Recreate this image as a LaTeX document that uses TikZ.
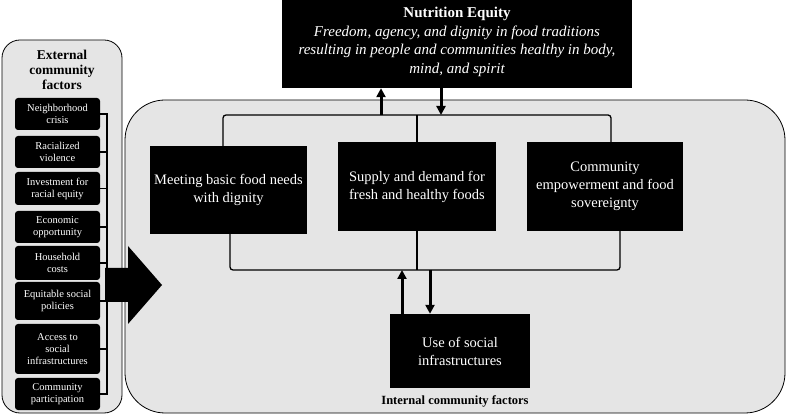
\documentclass[tikz,border=0pt]{standalone}
\usepackage{fontspec}
\setmainfont{Liberation Serif}
\usetikzlibrary{arrows.meta}
\begin{document}
\begin{tikzpicture}[x=1pt,y=-1pt,
  panel/.style={draw=black,fill=gray!20,line width=0.8pt},
  sbox/.style={fill=black,text=white,rounded corners=3pt,align=center,font=\fontsize{10.5}{12}\selectfont,inner sep=1pt},
  bbox/.style={fill=black,text=white,align=center,font=\fontsize{14.5}{18}\selectfont,inner sep=2pt},
  ln/.style={line width=1.3pt},
  arr/.style={line width=3pt,-{Triangle[length=9pt,width=9pt]}}]
\useasboundingbox (0,0) rectangle (787,419);
% panels
\draw[panel,rounded corners=18pt] (2,40) rectangle (122,413);
\draw[panel,rounded corners=40pt] (125,100) rectangle (785,413);
\node[font=\bfseries\fontsize{13.5}{15}\selectfont,align=center] (ext) at (62,70) {External\\community\\factors};
\node[font=\bfseries\fontsize{12.5}{14}\selectfont] (int) at (455,401) {Internal community factors};
% small boxes
\foreach \n/\ya/\yb/\t in {a/98/130/{Neighborhood\\crisis},b/136/168/{Racialized\\violence},c/172/205/{Investment for\\racial equity},d/211/243/{Economic\\opportunity},e/246/280/{Household\\costs},f/282/320/{Equitable social\\policies},g/324/374/{Access to\\social\\infrastructures},h/378/410/{Community\\participation}}{
  \node[sbox,minimum width=85pt,minimum height={\yb-\ya}] (\n) at (57.5,{(\ya+\yb)/2}) {\t};
}
% bracket
\draw[ln] (a.east) -- (107,114) -- (107,394) -- (h.east);
\foreach \n in {b,c,d,e,f,g}{\draw[ln] (\n.east) -- (107,0 |- \n.east);}
% big arrow
\fill (105,268) -- (128,268) -- (128,246) -- (162,285) -- (128,324) -- (128,302) -- (105,302) -- cycle;
% top box
\node[fill=black,minimum width=350pt,minimum height=88pt,inner sep=0pt] (top) at (457,44) {};
\node[text=white,align=center,font=\fontsize{15}{18.5}\selectfont] (toptxt) at (457,42) {\textbf{Nutrition Equity}\\\itshape Freedom, agency, and dignity in food traditions\\\itshape resulting in people and communities healthy in body,\\\itshape mind, and spirit};
% main boxes
\node[bbox,minimum width=157pt,minimum height=88pt] (m1) at (228.5,190) {Meeting basic food needs\\with dignity};
\node[bbox,minimum width=158pt,minimum height=89pt] (m2) at (417,186.5) {Supply and demand for\\fresh and healthy foods};
\node[bbox,minimum width=156pt,minimum height=89pt] (m3) at (605,186.5) {Community\\empowerment and food\\sovereignty};
\node[bbox,minimum width=140pt,minimum height=74pt] (use) at (460,351) {Use of social\\infrastructures};
% brackets
\draw[ln,rounded corners=3pt] (223,0 |- m1.north) -- (223,115) -- (611,115) -- (611,0 |- m3.north);
\draw[ln] (m2.north) -- (417,115);
\draw[ln,rounded corners=3pt] (230,0 |- m1.south) -- (230,270) -- (620,270) -- (620,0 |- m3.south);
\draw[ln] (m2.south) -- (417,270);
% arrows
\draw[arr] (381,115) -- (381,0 |- top.south);
\draw[arr] (441,0 |- top.south) -- (441,115);
\draw[arr] (402,0 |- use.north) -- (402,270);
\draw[arr] (430,270) -- (430,0 |- use.north);
\end{tikzpicture}
\end{document}
